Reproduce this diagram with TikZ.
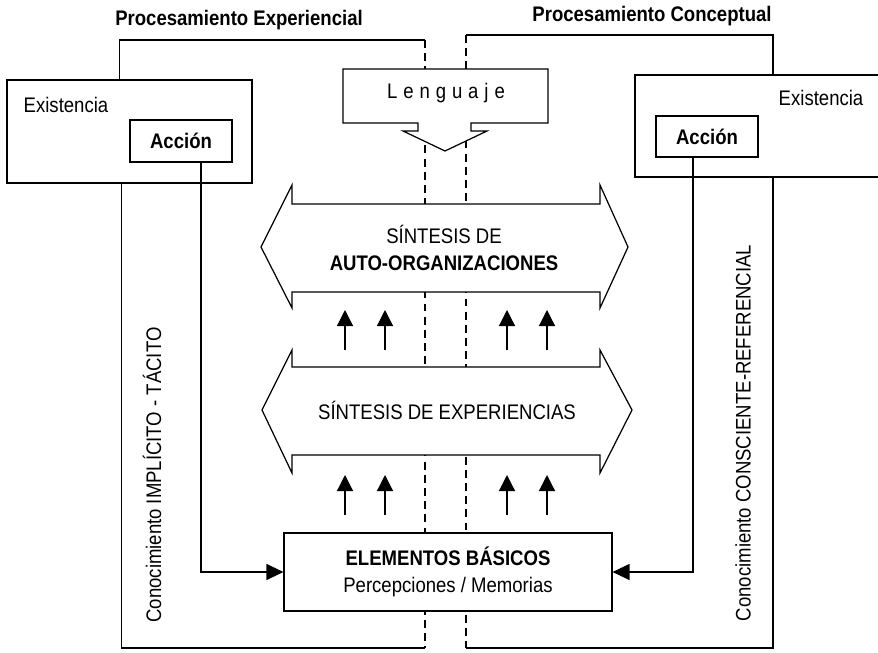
\documentclass[tikz,border=0pt]{standalone}
\usepackage{fontspec}
\setmainfont{Liberation Sans}[FakeStretch=0.88]
\usetikzlibrary{arrows.meta,calc}

\begin{document}
\begin{tikzpicture}[x=0.02cm, y=-0.02cm, line width=0.7pt,
	every node/.style={font=\fontsize{12}{15}\selectfont},
	box/.style={draw, fill=white, inner sep=0pt},
	flow/.style={-{Triangle[length=0.34cm,width=0.32cm]}},
	rise/.style={-{Triangle[length=0.32cm,width=0.32cm]}},
	split/.style={dash pattern=on 4.5pt off 3pt}]
	\useasboundingbox (0,0) rectangle (878,652);
	\coordinate (dlt) at (425,40);
	\coordinate (dlb) at (425,648);
	\coordinate (drt) at (466,35);
	\coordinate (drb) at (466,648);
	\draw[split] (dlt) -- (dlb);
	\draw[split] (drt) -- (drb);
	\node (expT) at (239,20) {\bfseries Procesamiento Experiencial};
	\node (conT) at (652,16) {\bfseries Procesamiento Conceptual};
	\node[box, minimum width=4.9cm, minimum height=2.06cm] (existL) at (129.5,131.5) {};
	\node[box, minimum width=5cm, minimum height=2.04cm] (existR) at (760,126) {};
	\node (exL) at (66,105) {Existencia};
	\node (exR) at (821,98) {Existencia};
	\node[box, minimum width=2.04cm, minimum height=0.84cm, font=\fontsize{12}{15}\selectfont\bfseries] (accL) at (181,141) {Acción};
	\node[box, minimum width=2.04cm, minimum height=0.82cm, font=\fontsize{12}{15}\selectfont\bfseries] (accR) at (707,136.5) {Acción};
	\draw ($(existL.north)+(-10,0)$) |- (dlt);
	\draw ($(existL.south)+(-8,0)$) |- (dlb);
	\draw ($(existR.north)+(13,0)$) |- (drt);
	\draw ($(existR.south)+(13,0)$) |- (drb);
	\draw[fill=white] (343,69) -- (548,69) -- (548,123) -- (471,123) -- (471,131) -- (487,131) -- (445,151) -- (403,131) -- (418,131) -- (418,123) -- (343,123) -- cycle;
	\node (lang) at (446,93) {\addfontfeature{LetterSpace=28}Lenguaje};
	\draw[fill=white] (261,247) -- (292,185) -- (292,204) -- (600,204) -- (600,185) -- (628,247) -- (600,308) -- (600,292) -- (292,292) -- (292,308) -- cycle;
	\node[align=center] (synA) at (444,248) {SÍNTESIS DE\\\textbf{AUTO-ORGANIZACIONES}};
	\draw[fill=white] (262,410) -- (292,350) -- (292,367) -- (600,367) -- (600,350) -- (632,410) -- (600,473) -- (600,455) -- (292,455) -- (292,473) -- cycle;
	\node (synE) at (447,410) {SÍNTESIS DE EXPERIENCIAS};
	\foreach \x [count=\i] in {345,385,507,547} {
		\coordinate (ua\i) at (\x,350);
		\coordinate (ub\i) at (\x,310);
		\coordinate (la\i) at (\x,515);
		\coordinate (lb\i) at (\x,475);
		\draw[rise] (ua\i) -- (ub\i);
		\draw[rise] (la\i) -- (lb\i);
	}
	\node[box, minimum width=6.56cm, minimum height=1.56cm, align=center] (elem) at (448,572) {\textbf{ELEMENTOS BÁSICOS}\\Percepciones / Memorias};
	\draw[flow] ($(accL.south)+(20,0)$) |- (elem.west);
	\draw[flow] ($(accR.south)+(-14,0)$) |- (elem.east);
	\node[rotate=90] (tacit) at (152,475) {Conocimiento IMPLÍCITO - TÁCITO};
	\node[rotate=90] (consc) at (743,433) {Conocimiento CONSCIENTE-REFERENCIAL};
\end{tikzpicture}
\end{document}
